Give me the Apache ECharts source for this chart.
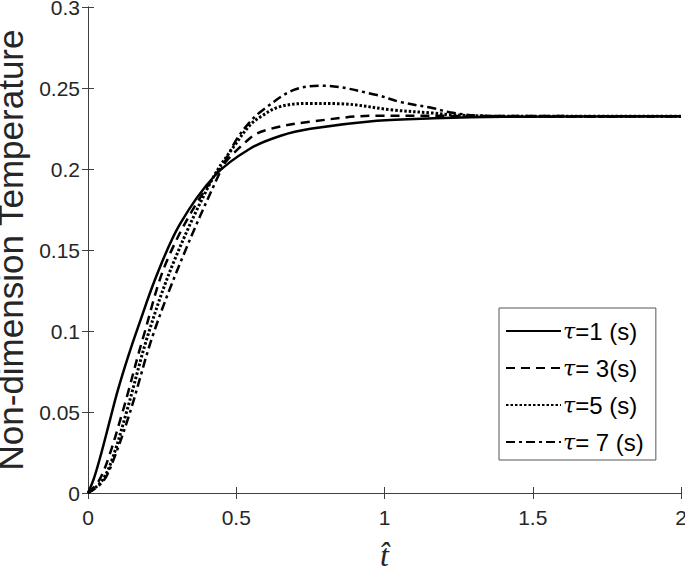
<!DOCTYPE html>
<html>
<head>
<meta charset="utf-8">
<script src="https://cdn.jsdelivr.net/npm/echarts@6/dist/echarts.min.js"></script>
<style>
  html, body { margin: 0; padding: 0; background: #fff; }
  #chart { width: 685px; height: 572px; }
</style>
</head>
<body>
<div id="chart"></div>
<script>
// values: [t-hat, non-dimension temperature]
var tau1 = [[0, 0], [0.02, 0.009], [0.044, 0.024], [0.074, 0.045], [0.1, 0.063], [0.135, 0.084],
  [0.17, 0.103], [0.233, 0.135], [0.31, 0.166], [0.428, 0.196], [0.546, 0.2125], [0.65, 0.2205],
  [0.75, 0.2248], [0.974, 0.2298], [1.165, 0.2313], [1.4, 0.2322], [2, 0.2325]];
var tau3 = [[0, 0], [0.035, 0.007], [0.068, 0.021], [0.115, 0.049], [0.135, 0.062], [0.186, 0.096],
  [0.27, 0.145], [0.42, 0.194], [0.546, 0.219], [0.614, 0.2247], [0.75, 0.2292], [0.974, 0.2329],
  [1.2, 0.2328], [2, 0.2325]];
var tau5 = [[0, 0], [0.045, 0.007], [0.08, 0.02], [0.13, 0.05], [0.203, 0.098], [0.29, 0.143],
  [0.42, 0.194], [0.5, 0.216], [0.546, 0.227], [0.58, 0.232], [0.647, 0.2385], [0.75, 0.2405],
  [0.85, 0.2403], [1.03, 0.2364], [1.165, 0.2345], [1.22, 0.2335], [1.4, 0.2325], [2, 0.2325]];
var tau7 = [[0, 0], [0.05, 0.007], [0.085, 0.02], [0.142, 0.05], [0.22, 0.098], [0.32, 0.146],
  [0.44, 0.196], [0.5, 0.218], [0.546, 0.229], [0.58, 0.235], [0.69, 0.2485], [0.79, 0.2514],
  [0.974, 0.2457], [1.05, 0.2415], [1.165, 0.2375], [1.22, 0.235], [1.31, 0.233], [1.5, 0.2322],
  [2, 0.2325]];
var seriesNames = ['t1', 't3', 't5', 't7'];
var legendLabels = {
  t1: '{i|\u03c4}=1 (s)',
  t3: '{i|\u03c4}= 3(s)',
  t5: '{i|\u03c4}=5 (s)',
  t7: '{i|\u03c4}= 7 (s)'
};
var xTicks = [0, 0.5, 1, 1.5, 2];
var yTicks = [0, 0.05, 0.1, 0.15, 0.2, 0.25, 0.3];

var axisColor = '#404040';
var textColor = '#262626';
var font = '"Liberation Sans", Arial, sans-serif';

var chart = echarts.init(document.getElementById('chart'), null, { renderer: 'svg' });

function lineSeries(name, data, type, width) {
  return {
    name: name,
    type: 'line',
    data: data,
    smooth: 0.35,
    symbol: 'none',
    color: '#000',
    xAxisIndex: 0,
    yAxisIndex: 0,
    lineStyle: { color: '#000', width: width, type: type },
    z: 3
  };
}

chart.setOption({
  animation: false,
  backgroundColor: '#fff',
  grid: { left: 88, right: 4, top: 7, bottom: 79, show: false, outerBoundsMode: 'none' },
  legend: {
    data: seriesNames,
    orient: 'vertical',
    left: 499,
    top: 308,
    padding: [11, 12, 6, 6],
    itemGap: 13,
    itemWidth: 55,
    itemHeight: 16,
    itemStyle: { opacity: 0 },
    backgroundColor: '#fff',
    borderColor: '#555',
    borderWidth: 1,
    borderRadius: 0,
    formatter: function(name) { return legendLabels[name]; },
    textStyle: {
      color: '#000',
      fontFamily: font,
      fontSize: 24,
      padding: [0, 0, 0, -3],
      rich: {
        i: { fontFamily: '"DejaVu Serif", serif', fontStyle: 'italic', fontSize: 22, color: '#000' }
      }
    }
  },
  xAxis: [{
    type: 'value',
    min: 0, max: 2, interval: 0.5,
    name: 't\u0302',
    nameLocation: 'middle',
    nameGap: 46,
    nameTextStyle: { fontFamily: '"Liberation Serif", serif', fontStyle: 'italic', fontSize: 32, color: textColor },
    axisLine: { show: true, lineStyle: { color: axisColor, width: 1 } },
    axisTick: { show: true, inside: true, length: 6, lineStyle: { color: axisColor } },
    axisLabel: { color: textColor, fontFamily: font, fontSize: 21, margin: 14,
      formatter: function(v) { return xTicks.indexOf(v) >= 0 ? String(v) : ''; } },
    splitLine: { show: false }
  }, {
    type: 'value', position: 'top',
    min: 0, max: 2, interval: 0.5,
    axisLine: { show: true, lineStyle: { color: axisColor, width: 1 } },
    axisTick: { show: true, inside: true, length: 6, lineStyle: { color: axisColor } },
    axisLabel: { show: false },
    splitLine: { show: false }
  }],
  yAxis: [{
    type: 'value',
    min: 0, max: 0.3, interval: 0.05,
    name: 'Non-dimension Temperature',
    nameLocation: 'middle',
    nameGap: 53,
    nameTextStyle: { fontFamily: font, fontSize: 35, color: textColor },
    axisLine: { show: true, lineStyle: { color: axisColor, width: 1 } },
    axisTick: { show: true, inside: true, length: 6, lineStyle: { color: axisColor } },
    axisLabel: { color: textColor, fontFamily: font, fontSize: 21, margin: 8,
      formatter: function(v) {
        var r = Math.round(v * 100) / 100;
        return yTicks.indexOf(r) >= 0 ? String(r) : '';
      } },
    splitLine: { show: false }
  }, {
    type: 'value', position: 'right',
    min: 0, max: 0.3, interval: 0.05,
    axisLine: { show: true, lineStyle: { color: axisColor, width: 1 } },
    axisTick: { show: true, inside: true, length: 6, lineStyle: { color: axisColor } },
    axisLabel: { show: false },
    splitLine: { show: false }
  }],
  series: [
    lineSeries('t1', tau1, 'solid', 2.5),
    lineSeries('t3', tau3, [9, 6], 2.5),
    lineSeries('t5', tau5, [2.5, 2], 3),
    lineSeries('t7', tau7, [9, 4, 3, 4], 2.5)
  ]
});
window.addEventListener('resize', function() { chart.resize(); });
</script>
</body>
</html>
